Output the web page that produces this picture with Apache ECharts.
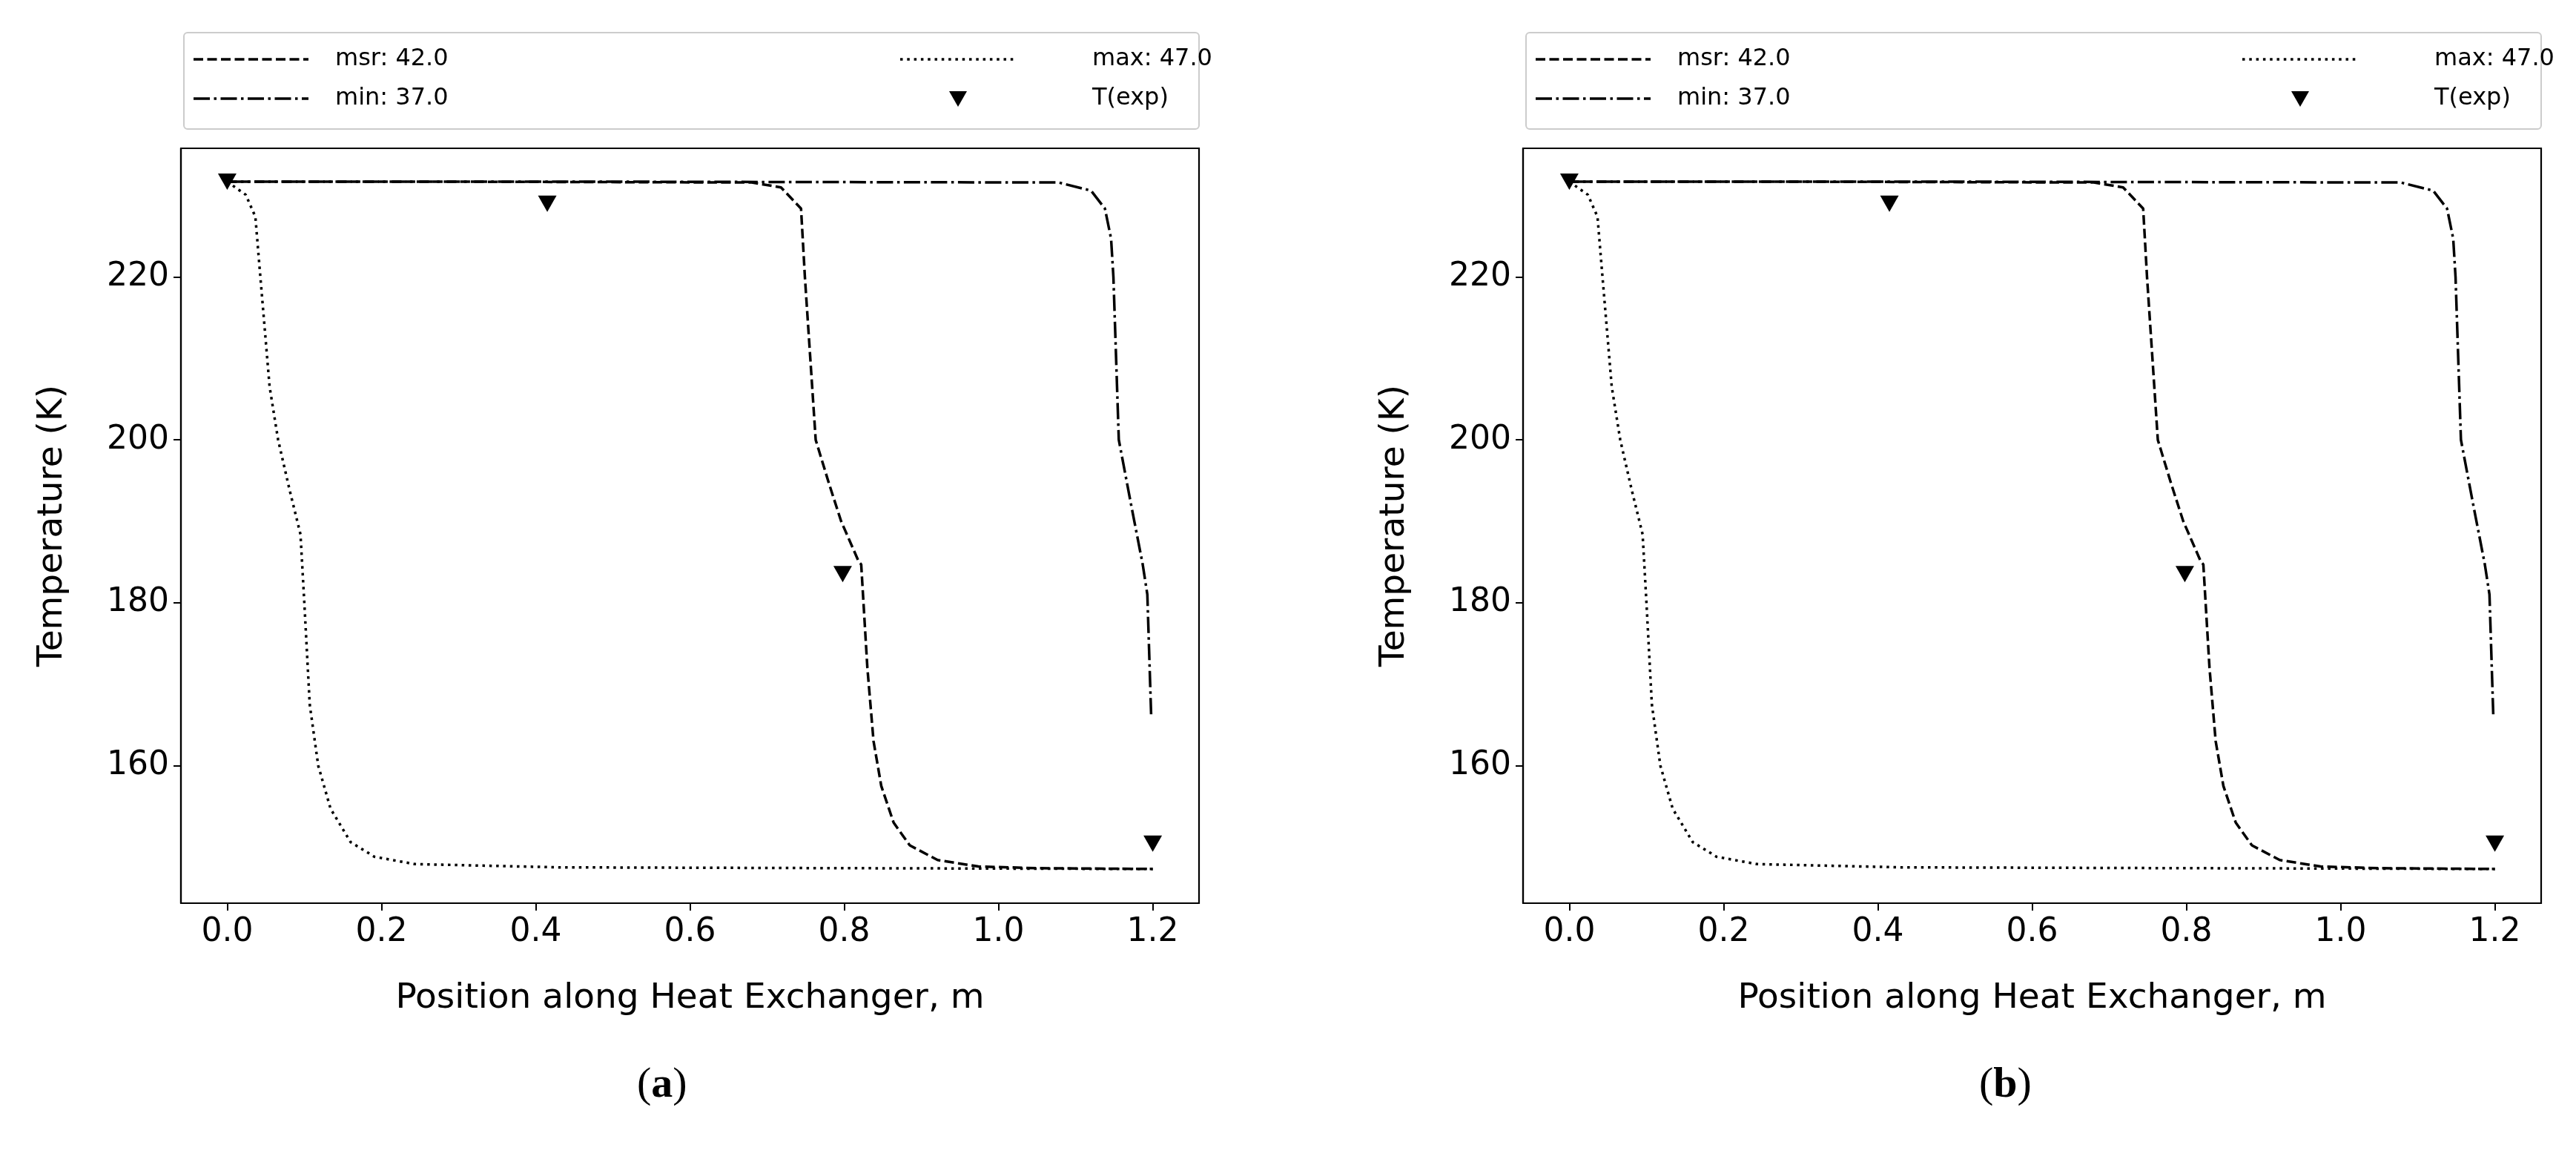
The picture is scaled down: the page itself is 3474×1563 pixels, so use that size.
<!DOCTYPE html>
<html><head><meta charset="utf-8">
<script src="https://cdn.jsdelivr.net/npm/echarts@6/dist/echarts.min.js"></script>
<style>html,body{margin:0;padding:0;background:#fff}#c{width:3474px;height:1563px}</style>
</head><body><div id="c"></div>
<script>
const msrX = [0,0.3,0.68,0.718,0.744,0.749,0.763,0.78,0.796,0.819,0.822,0.83,0.838,0.848,0.864,0.885,0.921,0.974,1.05,1.2];
const msrY = [231.7,231.7,231.6,231.0,228.4,220,200,194.7,190,185,184.7,172,163,157.5,153,150.2,148.4,147.6,147.4,147.3];
const minX = [0,0.5,1.078,1.12,1.138,1.146,1.149,1.156,1.172,1.187,1.193,1.198];
const minY = [231.7,231.7,231.6,230.6,228.4,224.7,220,200,192,184.7,181,166];
const maxX = [0,0.024,0.0365,0.043,0.055,0.066,0.081,0.095,0.1,0.107,0.118,0.134,0.16,0.191,0.243,0.431,0.8,1.2];
const maxY = [231.7,230.1,227.4,220,206.5,200,193.8,188.4,180,167.5,160,154.7,150.6,148.8,147.9,147.5,147.4,147.3];
const expX = [0,0.415,0.798,1.2];
const expY = [231.7,229.0,183.5,150.4];
const xTicks = [0,0.2,0.4,0.6,0.8,1.0,1.2];
const yTicks = [160,180,200,220];
const captions = ['a','b'];
const names = ['msr: 42.0','max: 47.0','min: 37.0','T(exp)'];

const zip = (a,b)=>a.map((v,i)=>[v,b[i]]);
const OFF = 1810;
const grids=[],xAxes=[],yAxes=[],series=[],graphics=[];
const lw=3.5;
const D_MSR=[13,5.5], D_MAX=[3.5,5.8], D_MIN=[22,5.5,3.5,5.5];
for(let k=0;k<2;k++){
  const L = 244 + k*OFF;
  grids.push({left:L,width:1373,top:200,height:1018,show:true,borderColor:'#000',borderWidth:2.2,backgroundColor:'transparent'});
  xAxes.push({type:'value',gridIndex:k,min:-0.06,max:1.26,
    name:'Position along Heat Exchanger, m',nameLocation:'middle',nameGap:105,
    nameTextStyle:{fontSize:47,color:'#000',fontFamily:'DejaVu Sans'},
    axisLine:{show:true,onZero:false,lineStyle:{color:'#000',width:2.2}},
    axisTick:{show:true,length:10,lineStyle:{color:'#000',width:2},customValues:xTicks},
    axisLabel:{fontSize:44,color:'#000',fontFamily:'DejaVu Sans',margin:18,customValues:xTicks,formatter:v=>v.toFixed(1)},
    splitLine:{show:false}});
  yAxes.push({type:'value',gridIndex:k,min:143.1,max:235.8,
    name:'Temperature (K)',nameLocation:'middle',nameGap:150,
    nameTextStyle:{fontSize:47,color:'#000',fontFamily:'DejaVu Sans'},
    axisLine:{show:true,onZero:false,lineStyle:{color:'#000',width:2.2}},
    axisTick:{show:true,length:10,lineStyle:{color:'#000',width:2},customValues:yTicks},
    axisLabel:{fontSize:44,color:'#000',fontFamily:'DejaVu Sans',margin:16,customValues:yTicks},
    splitLine:{show:false}});
  const ln=(name,x,y,dash)=>({name,type:'line',xAxisIndex:k,yAxisIndex:k,data:zip(x,y),symbol:'none',showSymbol:false,
    lineStyle:{color:'#000',width:lw,type:dash},itemStyle:{color:'#000'},animation:false,z:3});
  series.push(ln(names[0],msrX,msrY,D_MSR));
  series.push(ln(names[1],maxX,maxY,D_MAX));
  series.push(ln(names[2],minX,minY,D_MIN));
  series.push({name:names[3],type:'scatter',xAxisIndex:k,yAxisIndex:k,data:zip(expX,expY),symbol:'triangle',symbolRotate:180,symbolSize:[25,22],
    itemStyle:{color:'#000',opacity:1},animation:false,z:4});
  // legend box drawn as graphics
  graphics.push({type:'rect',shape:{x:L+4,y:44,width:1369,height:130,r:5},style:{fill:'#fff',stroke:'#ccc',lineWidth:2},z:1});
  const item=(x1,y,dash,text,tx)=>{
    graphics.push({type:'line',shape:{x1:x1,y1:y,x2:x1+155,y2:y},style:{stroke:'#000',lineWidth:lw,lineDash:dash},z:2});
    graphics.push({type:'text',x:tx,y:y,style:{text,fontSize:32,fontFamily:'DejaVu Sans',fill:'#000',verticalAlign:'middle'},z:2});
  };
  item(L+17,80,D_MSR,names[0],L+208);
  item(L+17,133,D_MIN,names[2],L+208);
  item(L+970,80,D_MAX,names[1],L+1229);
  graphics.push({type:'polygon',shape:{points:[[L+1036,123],[L+1060,123],[L+1048,144]]},style:{fill:'#000'},z:2});
  graphics.push({type:'text',x:L+1229,y:133,style:{text:names[3],fontSize:32,fontFamily:'DejaVu Sans',fill:'#000',verticalAlign:'middle'},z:2});
  graphics.push({type:'text',left:L+615,top:1435,style:{rich:{p:{fontSize:58,fontFamily:'Liberation Serif',fill:'#000'},b:{fontSize:58,fontFamily:'Liberation Serif',fontWeight:'bold',fill:'#000'}},
    text:'{p|(}{b|'+captions[k]+'}{p|)}'}});
}
const chart = echarts.init(document.getElementById('c'));
chart.setOption({animation:false,backgroundColor:'#fff',grid:grids,xAxis:xAxes,yAxis:yAxes,series,graphic:graphics});
</script></body></html>
